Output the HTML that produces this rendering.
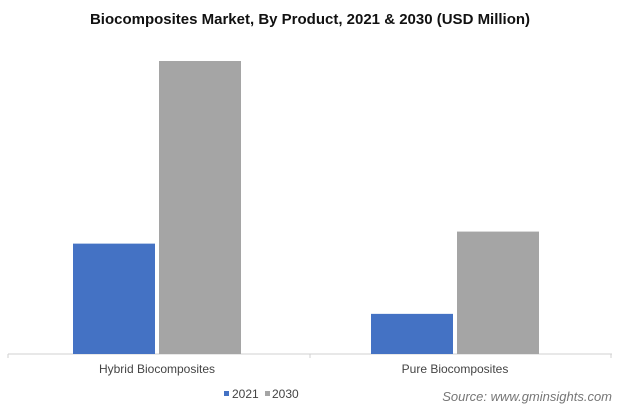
<!DOCTYPE html>
<html><head><meta charset="utf-8"><style>
body{margin:0;background:#fff;font-family:"Liberation Sans",sans-serif}
svg text{font-family:"Liberation Sans",sans-serif}
</style></head><body>
<svg width="620" height="415" id="c">
<text x="310" y="24" text-anchor="middle" font-size="15" font-weight="bold" fill="#111">Biocomposites Market, By Product, 2021 &amp; 2030 (USD Million)</text>
<line x1="8" y1="354" x2="612" y2="354" stroke="#d0d0d0"/>
<line x1="8" y1="354" x2="8" y2="358" stroke="#d0d0d0"/>
<line x1="310" y1="354" x2="310" y2="358" stroke="#d0d0d0"/>
<line x1="611" y1="354" x2="611" y2="358" stroke="#d0d0d0"/>
<g id="bars"></g>
<rect x="224" y="391" width="5" height="5" fill="#4472c4"/>
<text x="232" y="398" font-size="12" fill="#444">2021</text>
<rect x="265" y="391" width="5" height="5" fill="#a5a5a5"/>
<text x="272" y="398" font-size="12" fill="#444">2030</text>
<text x="612" y="401" text-anchor="end" font-size="13" font-style="italic" fill="#777">Source: www.gminsights.com</text>
</svg>
<script>
const categories=["Hybrid Biocomposites","Pure Biocomposites"];
const values2021=[110,40];
const values2030=[292,122];
const base=354, plotH=293, maxV=292;
function y(v){return base-v/maxV*plotH;}
const centers=[157,455];
const g=document.getElementById('bars');
const NS="http://www.w3.org/2000/svg";
categories.forEach((cat,i)=>{
  [[values2021,'#4472c4',-84,'2021'],[values2030,'#a5a5a5',2,'2030']].forEach(([arr,col,off,yr])=>{
    const r=document.createElementNS(NS,'rect');
    r.setAttribute('x',centers[i]+off);r.setAttribute('width',82);
    r.setAttribute('y',y(arr[i]));r.setAttribute('height',base-y(arr[i]));
    r.setAttribute('fill',col);
    
    
    g.appendChild(r);
  });
  const t=document.createElementNS(NS,'text');
  t.setAttribute('x',centers[i]);t.setAttribute('y',373);
  t.setAttribute('text-anchor','middle');t.setAttribute('font-size','12');t.setAttribute('fill','#444');
  t.textContent=cat;
  
  
  g.appendChild(t);
});
</script>
</body></html>
